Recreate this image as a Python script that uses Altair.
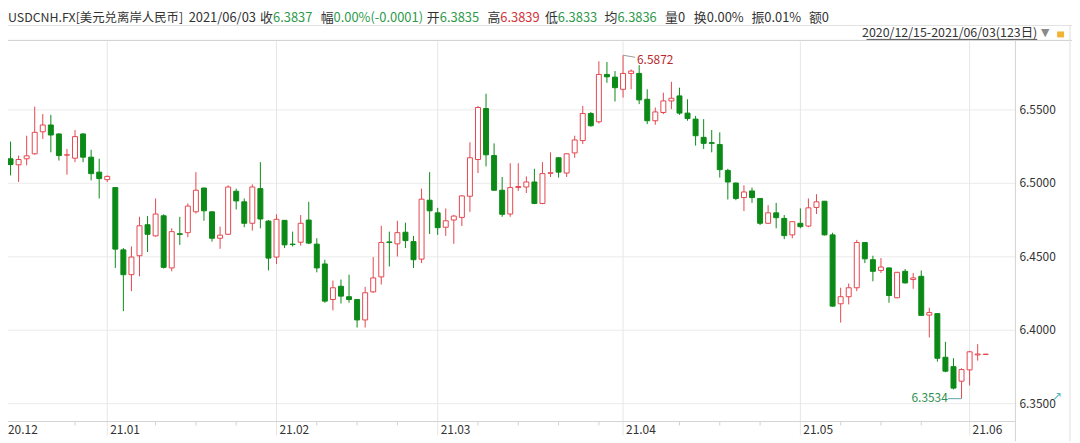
import altair as alt
import pandas as pd

# ---------------- data ----------------
opens = [6.5291, 6.5167, 6.5126, 6.5167, 6.5201, 6.5351, 6.5397, 6.5336, 6.5192, 6.5171,
         6.5336, 6.5178, 6.5076, 6.5025, 6.4971, 6.4547, 6.4378, 6.4507, 6.4718, 6.4642,
         6.4779, 6.4424, 6.4657, 6.4664, 6.4806, 6.4968, 6.4806, 6.4626, 6.4653, 6.4946,
         6.4874, 6.4728, 6.4964, 6.4743, 6.4498, 6.4748, 6.4586, 6.4599, 6.4750, 6.4586,
         6.4451, 6.4209, 6.4299, 6.4228, 6.4209, 6.4070, 6.4261, 6.4363, 6.4601, 6.4588,
         6.4667, 6.4603, 6.4484, 6.4885, 6.4799, 6.4701, 6.4750, 6.4768, 6.4912, 6.5162,
         6.5509, 6.5189, 6.4953, 6.4791, 6.4971, 6.4975, 6.5009, 6.4863, 6.5068, 6.5174,
         6.5070, 6.5207, 6.5291, 6.5475, 6.5419, 6.5741, 6.5723, 6.5640, 6.5748, 6.5748,
         6.5572, 6.5426, 6.5482, 6.5561, 6.5595, 6.5478, 6.5437, 6.5313, 6.5277, 6.5264,
         6.5088, 6.5002, 6.4903, 6.4948, 6.4897, 6.4728, 6.4799, 6.4761, 6.4649, 6.4728,
         6.4709, 6.4836, 6.4878, 6.4649, 6.4180, 6.4228, 6.4289, 6.4597, 6.4480, 6.4407,
         6.4424, 6.4221, 6.4401, 6.4345, 6.4367, 6.4103, 6.4113, 6.3816, 6.3752, 6.3653,
         6.3730, 6.3832, 6.3835]
highs = [6.5441, 6.5284, 6.5189, 6.5324, 6.5522, 6.5471, 6.5466, 6.5340, 6.5234, 6.5363,
         6.5340, 6.5228, 6.5167, 6.5054, 6.4975, 6.4559, 6.4570, 6.4772, 6.4777, 6.4897,
         6.4790, 6.4694, 6.4772, 6.4863, 6.5076, 6.4970, 6.4810, 6.4705, 6.4986, 6.4964,
         6.4897, 6.4993, 6.5144, 6.4750, 6.4789, 6.4750, 6.4671, 6.4784, 6.4874, 6.4626,
         6.4480, 6.4338, 6.4345, 6.4378, 6.4212, 6.4295, 6.4498, 6.4711, 6.4671, 6.4745,
         6.4732, 6.4642, 6.4964, 6.5076, 6.4833, 6.4829, 6.4784, 6.4919, 6.5279, 6.5527,
         6.5610, 6.5272, 6.5043, 6.5137, 6.5137, 6.5047, 6.5099, 6.5144, 6.5211, 6.5178,
         6.5203, 6.5324, 6.5527, 6.5486, 6.5831, 6.5826, 6.5764, 6.5872, 6.5775, 6.5804,
         6.5640, 6.5516, 6.5617, 6.5691, 6.5651, 6.5572, 6.5459, 6.5437, 6.5363, 6.5347,
         6.5099, 6.5005, 6.4986, 6.4971, 6.4900, 6.4851, 6.4867, 6.4784, 6.4740, 6.4829,
         6.4897, 6.4926, 6.4880, 6.4664, 6.4289, 6.4318, 6.4615, 6.4600, 6.4507, 6.4491,
         6.4427, 6.4397, 6.4417, 6.4390, 6.4407, 6.4153, 6.4115, 6.3921, 6.3809, 6.3741,
         6.3860, 6.3905, 6.3839]
lows = [6.5165, 6.5054, 6.5009, 6.5122, 6.5195, 6.5302, 6.5211, 6.5155, 6.5059, 6.5144,
        6.5144, 6.5020, 6.4897, 6.5009, 6.4424, 6.4130, 6.4266, 6.4367, 6.4532, 6.4637,
        6.4420, 6.4401, 6.4581, 6.4633, 6.4795, 6.4745, 6.4603, 6.4554, 6.4649, 6.4822,
        6.4701, 6.4678, 6.4694, 6.4407, 6.4451, 6.4559, 6.4570, 6.4576, 6.4586, 6.4394,
        6.4187, 6.4135, 6.4182, 6.4187, 6.4018, 6.4018, 6.4255, 6.4311, 6.4434, 6.4502,
        6.4559, 6.4424, 6.4457, 6.4655, 6.4649, 6.4642, 6.4588, 6.4709, 6.4806, 6.5070,
        6.5115, 6.4950, 6.4772, 6.4772, 6.4948, 6.4934, 6.4858, 6.4858, 6.5043, 6.5039,
        6.5043, 6.5174, 6.5268, 6.5385, 6.5407, 6.5684, 6.5557, 6.5584, 6.5640, 6.5539,
        6.5403, 6.5399, 6.5471, 6.5505, 6.5466, 6.5426, 6.5257, 6.5234, 6.5211, 6.5039,
        6.4890, 6.4885, 6.4811, 6.4867, 6.4716, 6.4723, 6.4694, 6.4620, 6.4626, 6.4694,
        6.4701, 6.4791, 6.4645, 6.4160, 6.4052, 6.4176, 6.4266, 6.4457, 6.4333, 6.4390,
        6.4187, 6.4218, 6.4318, 6.4282, 6.4098, 6.3951, 6.3786, 6.3714, 6.3597, 6.3534,
        6.3624, 6.3793, 6.3833]
closes = [6.5171, 6.5128, 6.5162, 6.5187, 6.5347, 6.5397, 6.5329, 6.5189, 6.5194, 6.5318,
          6.5178, 6.5066, 6.5032, 6.5047, 6.4552, 6.4378, 6.4498, 6.4711, 6.4653, 6.4791,
          6.4428, 6.4671, 6.4652, 6.4845, 6.4953, 6.4813, 6.4626, 6.4647, 6.4975, 6.4880,
          6.4728, 6.4975, 6.4757, 6.4491, 6.4755, 6.4581, 6.4583, 6.4728, 6.4593, 6.4424,
          6.4198, 6.4289, 6.4232, 6.4209, 6.4070, 6.4255, 6.4356, 6.4597, 6.4597, 6.4664,
          6.4610, 6.4480, 6.4892, 6.4813, 6.4698, 6.4745, 6.4777, 6.4914, 6.5174, 6.5516,
          6.5194, 6.4953, 6.4789, 6.4971, 6.4978, 6.5009, 6.4863, 6.5066, 6.5072, 6.5076,
          6.5201, 6.5295, 6.5475, 6.5392, 6.5741, 6.5725, 6.5651, 6.5748, 6.5764, 6.5568,
          6.5426, 6.5486, 6.5561, 6.5579, 6.5478, 6.5441, 6.5324, 6.5272, 6.5272, 6.5093,
          6.5009, 6.4897, 6.4941, 6.4903, 6.4728, 6.4799, 6.4766, 6.4644, 6.4739, 6.4705,
          6.4833, 6.4874, 6.4649, 6.4164, 6.4228, 6.4289, 6.4597, 6.4486, 6.4401, 6.4430,
          6.4236, 6.4394, 6.4322, 6.4356, 6.4101, 6.4120, 6.3809, 6.3721, 6.3606, 6.3732,
          6.3853, 6.3838, 6.3837]

month_idx = [13, 34, 54, 77, 99, 120]
month_labels = ["21.01", "21.02", "21.03", "21.04", "21.05", "21.06"]
first_label = "20.12"
monday_idx = [9, 19, 24, 29, 39, 44, 49, 59, 64, 69, 74, 84, 89, 94, 104, 109, 114]
y_ticks = [6.35, 6.40, 6.45, 6.50, 6.55]
y_labels = ["6.3500", "6.4000", "6.4500", "6.5000", "6.5500"]

high_idx, high_val, high_text = 77, 6.5872, "6.5872"
low_idx, low_val, low_text = 119, 6.3534, "6.3534"

header_items = [
    ("USDCNH.FX[美元兑离岸人民币]", "label"),
    ("2021/06/03", "label"),
    ("收", "label"), ("6.3837", "down"),
    ("幅", "label"), ("0.00%(-0.0001)", "down"),
    ("开", "label"), ("6.3835", "down"),
    ("高", "label"), ("6.3839", "up"),
    ("低", "label"), ("6.3833", "down"),
    ("均", "label"), ("6.3836", "down"),
    ("量0", "label"), ("换0.00%", "label"), ("振0.01%", "label"), ("额0", "label"),
]
range_text = "2020/12/15-2021/06/03(123日)"

# ---------------- layout / style ----------------
FONT = "Noto Sans CJK SC"
RED = "#e4474f"
GREEN = "#0c8a17"
TXT_GREEN = "#2f9a4c"
TXT_RED = "#d6333b"
GRID = "#ebebeb"
AXC = "#d4d4d4"
W, H = 1015, 383
XDOM = [0.685, 125.685]
YDOM = [6.33784, 6.59662]
# left edges (page x - 8) of the header pieces
header_x = [0, 182, 254, 267, 315, 328, 422, 435, 483, 496, 541, 554,
            601, 614, 662, 691, 749, 807]
header_size = [12.5] + [13] * 17
color_of = {"label": "#333333", "down": TXT_GREEN, "up": TXT_RED}
ROW1, ROW2, SEP = -24, -8, -16

xs = alt.Scale(domain=XDOM, nice=False, zero=False, padding=0)
ys = alt.Scale(domain=YDOM, nice=False, zero=False, padding=0)


def X(f):
    return alt.X(f, scale=xs, axis=None)


def Y(f):
    return alt.Y(f, scale=ys, axis=None)


df = pd.DataFrame({
    "idx": list(range(len(opens))),
    "open": opens, "high": highs, "low": lows, "close": closes,
})
df["dir"] = ["up" if c >= o else "down" for o, c in zip(opens, closes)]

dir_stroke = alt.Scale(domain=["up", "down"], range=[RED, GREEN])
dir_fill = alt.Scale(domain=["up", "down"], range=["#ffffff", GREEN])

# ---- grid / axes drawn from the tick arrays through the scales ----
ydf = pd.DataFrame({"v": y_ticks, "t": y_labels})
mdf = pd.DataFrame({"idx": month_idx, "t": month_labels})

y_grid = alt.Chart(ydf).mark_rule(color=GRID).encode(
    y=Y("v:Q"), x=alt.value(0), x2=alt.value(W))
y_lab = alt.Chart(ydf).mark_text(align="left", baseline="middle", font=FONT, fontSize=12,
                                 color="#333333").encode(
    y=Y("v:Q"), x=alt.value(W + 4), text="t:N")
x_grid = alt.Chart(mdf).mark_rule(color="#e6e6e6").encode(
    x=X("idx:Q"), y=alt.value(0), y2=alt.value(H + 14))
x_lab = alt.Chart(mdf).mark_text(align="left", baseline="top", font=FONT, fontSize=12,
                                 color="#333333", dx=3).encode(
    x=X("idx:Q"), y=alt.value(H + 4), text="t:N")
minor_ticks = alt.Chart(pd.DataFrame({"idx": monday_idx})).mark_rule(color="#d2d2d2").encode(
    x=X("idx:Q"), y=alt.value(H), y2=alt.value(H + 4))
first_lab = alt.Chart(pd.DataFrame({"t": [first_label]})).mark_text(
    align="left", baseline="top", font=FONT, fontSize=12, color="#333333").encode(
    x=alt.value(0), y=alt.value(H + 4), text="t:N")

# ---- candles ----
base = alt.Chart(df)
wicks = base.mark_rule(strokeWidth=1).encode(
    x=X("idx:Q"), y=Y("low:Q"), y2="high:Q",
    color=alt.Color("dir:N", scale=dir_stroke, legend=None),
)
bodies = base.mark_bar(width=5, strokeWidth=1).encode(
    x=X("idx:Q"), y=Y("open:Q"), y2="close:Q",
    fill=alt.Fill("dir:N", scale=dir_fill, legend=None),
    stroke=alt.Stroke("dir:N", scale=dir_stroke, legend=None),
)

# ---- annotations of the extreme points ----
hi_line = alt.Chart(pd.DataFrame({"idx": [high_idx, high_idx + 1.5], "v": [high_val, 6.5858]})).mark_line(
    color="#9a9a9a", strokeWidth=1).encode(x=X("idx:Q"), y=Y("v:Q"))
hi_lab = alt.Chart(pd.DataFrame({"idx": [high_idx + 1.73], "v": [6.5836], "t": [high_text]})).mark_text(
    align="left", baseline="middle", font=FONT, fontSize=12, color="#b8282e").encode(
    x=X("idx:Q"), y=Y("v:Q"), text="t:N")
lo_line = alt.Chart(pd.DataFrame({"idx": [low_idx - 1.7, low_idx], "v": [low_val, low_val]})).mark_line(
    color="#5aa6a8", strokeWidth=1).encode(x=X("idx:Q"), y=Y("v:Q"))
lo_lab = alt.Chart(pd.DataFrame({"idx": [low_idx - 1.7], "v": [6.3539], "t": [low_text]})).mark_text(
    align="right", baseline="middle", font=FONT, fontSize=12, color="#2f8f4f").encode(
    x=X("idx:Q"), y=Y("v:Q"), text="t:N")


def txt(s, gx, gy, color, size=13, align="left", font=FONT):
    return alt.Chart(pd.DataFrame({"t": [s]})).mark_text(
        align=align, baseline="middle", font=font, fontSize=size, color=color).encode(
        x=alt.value(gx), y=alt.value(gy), text="t:N")


def hline(x1, x2, y, color):
    return alt.Chart(pd.DataFrame({"a": [0]})).mark_rule(color=color, strokeWidth=1).encode(
        x=alt.value(x1), x2=alt.value(x2), y=alt.value(y))


def vline(x, y1, y2, color):
    return alt.Chart(pd.DataFrame({"a": [0]})).mark_rule(color=color, strokeWidth=1).encode(
        x=alt.value(x), y=alt.value(y1), y2=alt.value(y2))


header = [txt(s, x, ROW1, color_of[k], size=sz)
          for (s, k), x, sz in zip(header_items, header_x, header_size)]
extras = [
    hline(0, 1072, SEP, "#e2e2e2"),
    hline(0, 1072, -1, "#cfcfcf"),
    hline(0, W, H, AXC),
    vline(W, -1, H + 20, AXC),
    vline(1070, SEP, H + 20, "#e0e0e0"),
    txt(range_text, 1037, ROW2, "#333333", size=12.5, align="right"),
    hline(865, 1037, ROW2 + 6, "#555555"),
    txt("▼", 1045, ROW2, "#8a8a8a", size=11, align="center", font="DejaVu Sans"),
    txt("↗", 1052, 357, "#56b7c0", size=12, align="left", font="DejaVu Sans"),
    alt.Chart(pd.DataFrame({"a": [0]})).mark_rect(color="#f2b233").encode(
        x=alt.value(1057), x2=alt.value(1064), y=alt.value(ROW2 - 2), y2=alt.value(ROW2 + 4)),
]

chart = alt.layer(
    y_grid, x_grid, wicks, bodies, minor_ticks, y_lab, x_lab, first_lab,
    hi_line, hi_lab, lo_line, lo_lab, *header, *extras
).properties(
    width=W, height=H,
    autosize=alt.AutoSizeParams(type="none"),
    padding={"left": 0, "top": 32, "right": 57, "bottom": 20},
    background="#ffffff",
).configure_view(stroke=None)

chart.save("out.html", embed_options={"renderer": "svg", "actions": False})
